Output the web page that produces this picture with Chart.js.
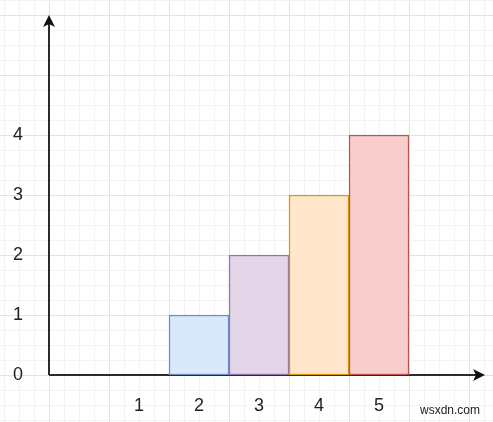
<!DOCTYPE html>
<html>
<head>
<meta charset="utf-8">
<script src="https://cdn.jsdelivr.net/npm/chart.js@4.4.1/dist/chart.umd.min.js"></script>
<style>
  html, body { margin: 0; padding: 0; background: #ffffff; }
  #wrap { width: 493px; height: 422px; position: relative; }
</style>
</head>
<body>
<div id="wrap"><canvas id="c"></canvas></div>
<script>
// ---- data ----
const categories = ['1', '2', '3', '4', '5'];
const positions = [1.5, 2.5, 3.5, 4.5, 5.5];
const values = [0, 1, 2, 3, 4];
const yTickValues = [0, 1, 2, 3, 4];
const fillColors = ['rgba(0,0,0,0)', '#dae8fc', '#e1d5e7', '#ffe6cc', '#f8cecc'];
const strokeColors = ['rgba(0,0,0,0)', '#6c8ebf', '#9673a6', '#d79b00', '#b85450'];
const watermark = 'wsxdn.com';

const points = positions.map((p, i) => ({ x: p, y: values[i] }));

const gridPlugin = {
  id: 'bgGrid',
  beforeDraw(chart) {
    const ctx = chart.ctx, xs = chart.scales.x, ys = chart.scales.y;
    const W = chart.width, H = chart.height;
    ctx.save();
    ctx.fillStyle = '#ffffff';
    ctx.fillRect(0, 0, W, H);
    ctx.lineWidth = 1;
    const step = 0.25;
    for (let v = -4; v <= 12; v += step) {
      const px = Math.round(xs.getPixelForValue(v)) + 0.5;
      if (px < 0 || px > W) continue;
      const major = Math.abs(v - Math.round(v)) < 1e-6;
      ctx.strokeStyle = major ? '#e3e3e3' : '#f3f3f3';
      ctx.beginPath(); ctx.moveTo(px, 0); ctx.lineTo(px, H); ctx.stroke();
    }
    for (let v = -4; v <= 10; v += step) {
      const py = Math.round(ys.getPixelForValue(v)) + 0.5;
      if (py < 0 || py > H) continue;
      const major = Math.abs(v - Math.round(v)) < 1e-6;
      ctx.strokeStyle = major ? '#e3e3e3' : '#f3f3f3';
      ctx.beginPath(); ctx.moveTo(0, py); ctx.lineTo(W, py); ctx.stroke();
    }
    ctx.restore();
  },
  beforeDatasetsDraw(chart) {
    const ctx = chart.ctx, a = chart.chartArea;
    ctx.save();
    ctx.strokeStyle = '#2b2b2b';
    ctx.fillStyle = '#111111';
    ctx.lineWidth = 2;
    ctx.beginPath(); ctx.moveTo(a.left, a.bottom); ctx.lineTo(a.left, a.top + 8); ctx.stroke();
    ctx.beginPath();
    ctx.moveTo(a.left, a.top);
    ctx.lineTo(a.left - 6, a.top + 12);
    ctx.lineTo(a.left, a.top + 9);
    ctx.lineTo(a.left + 6, a.top + 12);
    ctx.closePath(); ctx.fill();
    ctx.beginPath(); ctx.moveTo(a.left, a.bottom); ctx.lineTo(a.right - 8, a.bottom); ctx.stroke();
    ctx.beginPath();
    ctx.moveTo(a.right, a.bottom);
    ctx.lineTo(a.right - 12, a.bottom - 6);
    ctx.lineTo(a.right - 9, a.bottom);
    ctx.lineTo(a.right - 12, a.bottom + 6);
    ctx.closePath(); ctx.fill();
    ctx.restore();
  },
  afterDraw(chart) {
    const ctx = chart.ctx;
    ctx.save();
    ctx.font = '12px "Liberation Sans", Arial, sans-serif';
    ctx.fillStyle = '#222222';
    ctx.textBaseline = 'middle';
    ctx.textAlign = 'left';
    ctx.fillText(watermark, 420, 411);
    ctx.restore();
  }
};

new Chart(document.getElementById('c'), {
  type: 'bar',
  data: {
    datasets: [{
      data: points,
      backgroundColor: fillColors,
      borderColor: strokeColors,
      borderWidth: 1.5,
      borderSkipped: false,
      barPercentage: 1.0,
      categoryPercentage: 1.0
    }]
  },
  options: {
    responsive: true,
    maintainAspectRatio: false,
    animation: false,
    devicePixelRatio: 1,
    layout: { padding: { top: 15, right: 8, left: 0, bottom: 0 } },
    plugins: { legend: { display: false }, tooltip: { enabled: false } },
    scales: {
      x: {
        type: 'linear',
        offset: false,
        min: 0,
        max: 436 / 60,
        grid: { display: false, drawTicks: false, offset: false },
        border: { display: false },
        afterBuildTicks(scale) { scale.ticks = positions.map(v => ({ value: v })); },
        afterFit(scale) { scale.height = 47; scale.paddingLeft = 0; scale.paddingRight = 0; },
        ticks: {
          autoSkip: false,
          maxRotation: 0,
          padding: 20,
          color: '#222222',
          font: { family: '"Liberation Sans", Arial, sans-serif', size: 18 },
          callback: (v, i) => categories[i]
        }
      },
      y: {
        min: 0,
        max: 6,
        grid: { display: false, drawTicks: false },
        border: { display: false },
        afterBuildTicks(scale) { scale.ticks = yTickValues.map(v => ({ value: v })); },
        afterFit(scale) { scale.width = 49; scale.paddingTop = 0; scale.paddingBottom = 0; },
        ticks: {
          padding: 26,
          color: '#222222',
          font: { family: '"Liberation Sans", Arial, sans-serif', size: 18 },
          callback: (v) => String(v)
        }
      }
    }
  },
  plugins: [gridPlugin]
});
</script>
</body>
</html>
